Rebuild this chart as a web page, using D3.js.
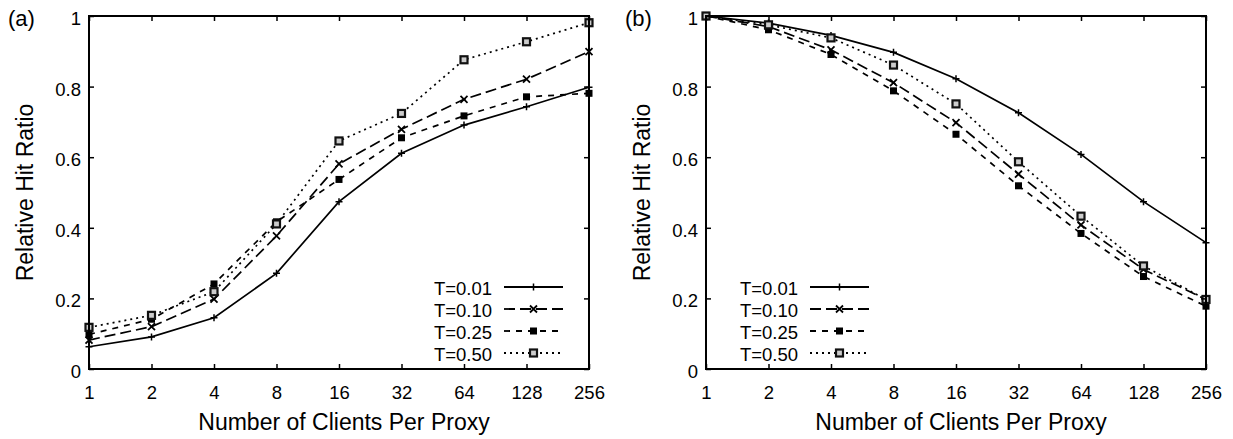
<!DOCTYPE html>
<html>
<head>
<meta charset="utf-8">
<script src="https://cdn.jsdelivr.net/npm/d3@7"></script>
<style>
  body { margin: 0; background: #fff; }
  text { font-family: "Liberation Sans", Arial, Helvetica, sans-serif; fill: #000; }
</style>
</head>
<body>
<div id="chart"></div>
<script>
const clients = [1, 2, 4, 8, 16, 32, 64, 128, 256];
const yTicks = [0, 0.2, 0.4, 0.6, 0.8, 1];
const seriesNames = ["T=0.01", "T=0.10", "T=0.25", "T=0.50"];

// panel (a)
const a_t001 = [0.063, 0.091, 0.145, 0.271, 0.474, 0.611, 0.691, 0.743, 0.798];
const a_t010 = [0.082, 0.120, 0.198, 0.377, 0.581, 0.679, 0.764, 0.821, 0.899];
const a_t025 = [0.098, 0.141, 0.241, 0.417, 0.537, 0.655, 0.717, 0.771, 0.781];
const a_t050 = [0.118, 0.152, 0.219, 0.411, 0.646, 0.724, 0.876, 0.927, 0.981];

// panel (b)
const b_t001 = [1.0, 0.980, 0.945, 0.897, 0.822, 0.726, 0.608, 0.474, 0.358];
const b_t010 = [1.0, 0.970, 0.904, 0.811, 0.698, 0.552, 0.408, 0.282, 0.197];
const b_t025 = [1.0, 0.961, 0.891, 0.788, 0.665, 0.519, 0.384, 0.262, 0.178];
const b_t050 = [1.0, 0.975, 0.938, 0.861, 0.751, 0.587, 0.433, 0.292, 0.197];

const dashes = ["none", "11,5", "6,6", "2,4"];
const markers = ["plus", "cross", "fill", "open"];

const W = 500, H = 353;
const svg = d3.select("#chart").append("svg")
    .attr("width", 1233)
    .attr("height", 439);

function drawMarker(g, type, x, y){
    if(type === "plus"){
        g.append("path").attr("d", `M${x-3.5},${y}H${x+3.5}M${x},${y-3.5}V${y+3.5}`)
            .attr("stroke", "#000").attr("stroke-width", 1.5);
    } else if(type === "cross"){
        g.append("path").attr("d", `M${x-3.5},${y-3.5}L${x+3.5},${y+3.5}M${x-3.5},${y+3.5}L${x+3.5},${y-3.5}`)
            .attr("stroke", "#000").attr("stroke-width", 1.8);
    } else if(type === "fill"){
        g.append("rect").attr("x", x-3.5).attr("y", y-3.5).attr("width", 7).attr("height", 7)
            .attr("fill", "#000");
    } else {
        g.append("rect").attr("x", x-3.5).attr("y", y-3.5).attr("width", 7).attr("height", 7)
            .attr("fill", "#ccc").attr("stroke", "#111").attr("stroke-width", 2.2);
    }
}

function drawPanel(left, label, data, legendX){
    const g = svg.append("g").attr("transform", `translate(${left}, 16)`);

    const x = d3.scaleLog().base(2).domain([1, 256]).range([0, W]);
    const y = d3.scaleLinear().domain([0, 1]).range([H, 0]);

    // series
    const line = d3.line().x((d, i) => x(clients[i])).y(d => y(d));
    data.forEach((vals, k) => {
        g.append("path")
            .datum(vals)
            .attr("d", line)
            .attr("fill", "none")
            .attr("stroke", "#000")
            .attr("stroke-width", 1.7)
            .attr("stroke-dasharray", dashes[k]);
        vals.forEach((v, i) => drawMarker(g, markers[k], x(clients[i]), y(v)));
    });

    // axes with mirrored inward ticks
    const xAxis = d3.axisBottom(x).tickValues(clients).tickFormat(d3.format("d"))
        .tickSizeInner(-5).tickSizeOuter(0).tickPadding(17);
    const yAxis = d3.axisLeft(y).tickValues(yTicks).tickFormat(d => d === 0 || d === 1 ? d : d3.format(".1f")(d))
        .tickSizeInner(-5).tickSizeOuter(0).tickPadding(8);

    const gx = g.append("g").attr("transform", `translate(0, ${H})`).call(xAxis);
    const gy = g.append("g").call(yAxis);
    g.append("g").call(d3.axisTop(x).tickValues(clients).tickFormat("").tickSizeInner(-5).tickSizeOuter(0));
    g.append("g").attr("transform", `translate(${W}, 0)`)
        .call(d3.axisRight(y).tickValues(yTicks).tickFormat("").tickSizeInner(-5).tickSizeOuter(0));

    g.selectAll(".domain").remove();
    g.selectAll(".tick line").attr("stroke", "#000").attr("stroke-width", 1.5);
    [gx, gy].forEach(a => a.selectAll("text")
        .style("font-family", '"Liberation Sans", Arial, sans-serif')
        .style("font-size", "18.5px").attr("fill", "#000"));
    gy.selectAll("text").attr("dy", "0.46em");

    g.append("rect")
        .attr("width", W).attr("height", H)
        .attr("fill", "none").attr("stroke", "#000").attr("stroke-width", 2);

    // titles
    g.append("text")
        .attr("x", W / 2 + 5).attr("y", H + 61)
        .attr("text-anchor", "middle")
        .style("font-size", "23px")
        .text("Number of Clients Per Proxy");
    g.append("text")
        .attr("transform", `translate(-56, ${H / 2}) rotate(-90)`)
        .attr("text-anchor", "middle")
        .style("font-size", "23px")
        .text("Relative Hit Ratio");
    g.append("text")
        .attr("x", -81).attr("y", 10)
        .style("font-size", "22px")
        .text(label);

    // legend
    const lg = svg.append("g").attr("transform", `translate(${legendX}, 287)`);
    seriesNames.forEach((name, k) => {
        const row = lg.append("g").attr("transform", `translate(0, ${k * 22})`);
        row.append("text")
            .attr("x", -12).attr("y", 7.5)
            .attr("text-anchor", "end")
            .style("font-size", "18.5px")
            .text(name);
        row.append("line")
            .attr("x1", 0).attr("x2", 59)
            .attr("stroke", "#000").attr("stroke-width", 1.8)
            .attr("stroke-dasharray", dashes[k]);
        drawMarker(row, markers[k], 29.5, 0);
    });
}

drawPanel(89, "(a)", [a_t001, a_t010, a_t025, a_t050], 504);
drawPanel(706, "(b)", [b_t001, b_t010, b_t025, b_t050], 810);
</script>
</body>
</html>
